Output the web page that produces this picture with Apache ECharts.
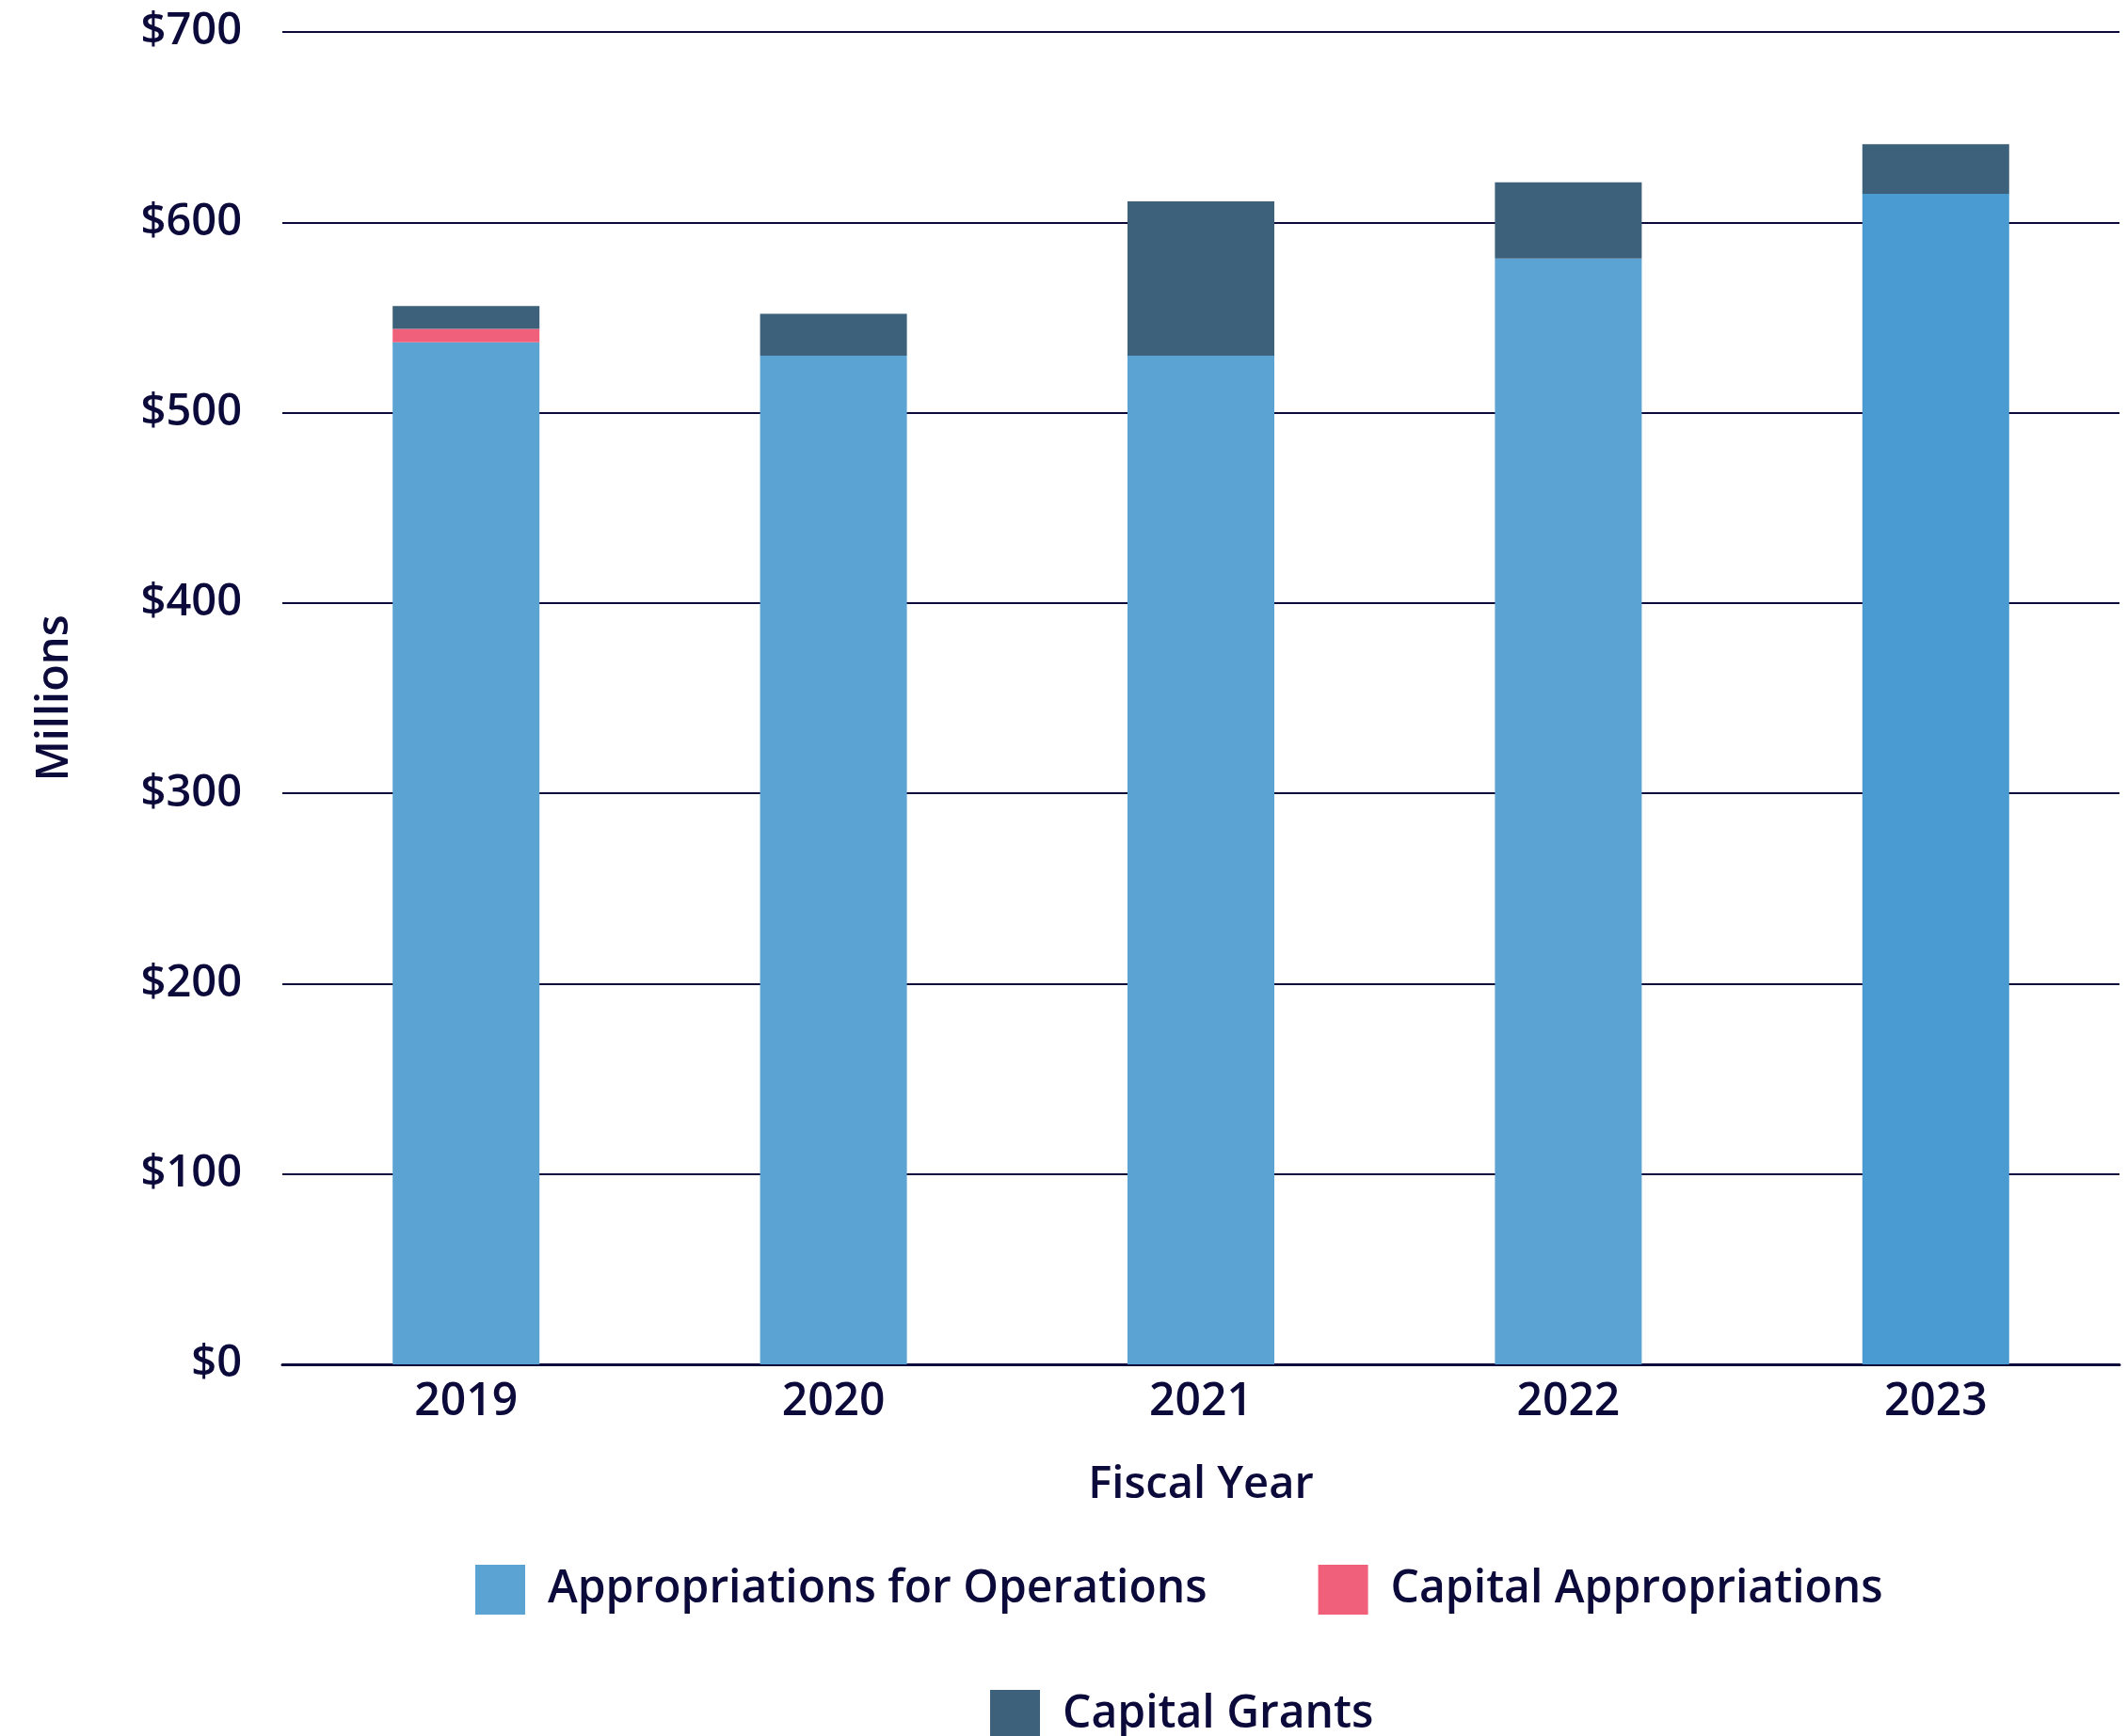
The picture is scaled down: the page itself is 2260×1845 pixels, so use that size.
<!DOCTYPE html>
<html>
<head>
<meta charset="utf-8">
<title>Appropriations and Grants</title>
<script src="https://cdn.jsdelivr.net/npm/echarts@6/dist/echarts.min.js"></script>
<style>
  html, body { margin: 0; padding: 0; background: #fff; }
  #chart { width: 2260px; height: 1845px; }
</style>
</head>
<body>
<div id="chart"></div>
<script>
// data (millions)
var years = ['2019', '2020', '2021', '2022', '2023'];
var opsValues = [537, 530, 530, 581, 615];
var capApprValues = [7, 0, 0, 0, 0];
var grantsValues = [12, 22, 81, 40, 26];
var yTicks = [0, 100, 200, 300, 400, 500, 600, 700];

var ink = '#0b0a3a';
var font = '"Open Sans", "Noto Sans", sans-serif';

// last year's operations bar is a slightly deeper blue
var opsData = opsValues.map(function (v, i) {
    if (i === years.length - 1) {
        return { value: v, itemStyle: { color: '#4a9bd1' } };
    }
    return v;
});

var myChart = echarts.init(document.getElementById('chart'));

var legendText = {
    color: ink,
    fontFamily: font,
    fontWeight: 600,
    fontSize: 48,
    padding: [0, 0, 0, 19]
};

var option = {
    animation: false,
    backgroundColor: '#fff',
    textStyle: { fontFamily: font },
    grid: {
        left: 300,
        right: 8,
        top: 34,
        bottom: 395
    },
    legend: [
        {
            data: ['Appropriations for Operations', 'Capital Appropriations'],
            left: 500,
            top: 1658,
            itemWidth: 53,
            itemHeight: 53,
            itemGap: 118,
            icon: 'rect',
            textStyle: legendText
        },
        {
            data: ['Capital Grants'],
            left: 1047,
            top: 1791,
            itemWidth: 53,
            itemHeight: 53,
            icon: 'rect',
            textStyle: legendText
        }
    ],
    xAxis: {
        type: 'category',
        data: years,
        name: 'Fiscal Year',
        nameLocation: 'middle',
        nameGap: 105,
        nameTextStyle: { color: ink, fontSize: 47, fontWeight: 600, fontFamily: font },
        axisLine: { lineStyle: { color: ink, width: 3 } },
        axisTick: { show: false },
        axisLabel: { color: ink, fontSize: 48, fontWeight: 600, fontFamily: font, margin: 16 }
    },
    yAxis: {
        type: 'value',
        min: yTicks[0],
        max: yTicks[yTicks.length - 1],
        interval: 100,
        name: 'Millions',
        nameLocation: 'middle',
        nameGap: 218,
        nameTextStyle: { color: ink, fontSize: 47, fontWeight: 600, fontFamily: font },
        axisLine: { show: false },
        axisTick: { show: false },
        axisLabel: {
            color: ink, fontSize: 47, fontWeight: 600, fontFamily: font, margin: 43,
            formatter: function (v) { return '$' + v; }
        },
        splitLine: { lineStyle: { color: ink, width: 2 } }
    },
    series: [
        {
            name: 'Appropriations for Operations',
            type: 'bar',
            stack: 'total',
            barWidth: 156,
            itemStyle: { color: '#5ba3d3' },
            data: opsData
        },
        {
            name: 'Capital Appropriations',
            type: 'bar',
            stack: 'total',
            barWidth: 156,
            itemStyle: { color: '#f0607a' },
            data: capApprValues
        },
        {
            name: 'Capital Grants',
            type: 'bar',
            stack: 'total',
            barWidth: 156,
            itemStyle: { color: '#3d617a' },
            data: grantsValues
        }
    ]
};

myChart.setOption(option);
</script>
</body>
</html>
